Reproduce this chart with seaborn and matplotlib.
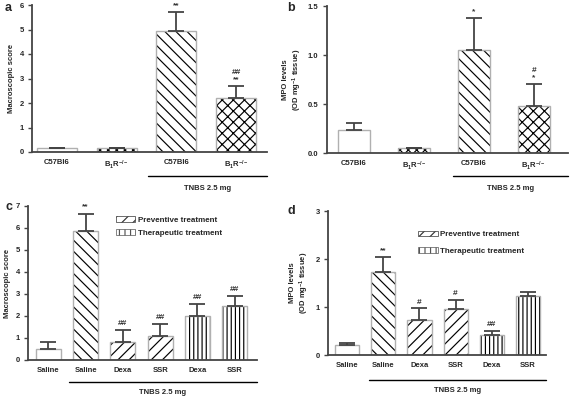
import matplotlib
matplotlib.use("Agg")
import matplotlib.pyplot as plt
import matplotlib.transforms as mtransforms
from matplotlib.patches import Patch
import seaborn as sns
import pandas as pd
import numpy as np

sns.set_theme(style="ticks")
plt.rcParams['font.family'] = ['Liberation Sans', 'DejaVu Sans']
plt.rcParams['hatch.linewidth'] = 0.85
plt.rcParams['mathtext.fontset'] = 'custom'
plt.rcParams['mathtext.rm'] = 'Liberation Sans:bold'
plt.rcParams['mathtext.it'] = 'Liberation Sans:bold'
plt.rcParams['mathtext.bf'] = 'Liberation Sans:bold'

# ---------------- data ----------------
ab_labels = ["C57Bl6", "B$_1$R$^{-/-}$", "C57Bl6", "B$_1$R$^{-/-}$"]
a_vals = [0.15, 0.15, 4.95, 2.2]
a_err = [0.0, 0.0, 0.75, 0.5]
a_sig = ["", "", "**", "##\n**"]

b_vals = [0.23, 0.05, 1.05, 0.48]
b_err = [0.08, 0.0, 0.33, 0.22]
b_sig = ["", "", "*", "#\n*"]

cd_labels = ["Saline", "Saline", "Dexa", "SSR", "Dexa", "SSR"]
c_vals = [0.5, 5.85, 0.8, 1.08, 2.0, 2.45]
c_err = [0.3, 0.8, 0.58, 0.54, 0.55, 0.47]
c_sig = ["", "**", "##", "##", "##", "##"]

d_vals = [0.21, 1.73, 0.72, 0.95, 0.41, 1.23]
d_err = [0.05, 0.31, 0.25, 0.19, 0.10, 0.09]
d_sig = ["", "**", "#", "#", "##", ""]

ab_hatch = ["", "xxxx", "\\\\\\", "xxx"]
cd_hatch = ["", "\\\\\\", "///", "///", "||||", "||||"]

W, H = 570, 400
fig = plt.figure(figsize=(W / 100, H / 100), dpi=100)


def add_ax(l, r, t, b):
    return fig.add_axes([l / W, 1 - b / H, (r - l) / W, (b - t) / H])


EDGE = "#b0b0b0"
AXC = "#444444"
FS = 5.5


def panel(ax, labels, vals, errs, sigs, hatches, width, xlim, ylim, yticks,
          ytickfmt, ylabel, letter, line_from, tnbs_y, text_y, letter_xy):
    n = len(vals)
    ids = [f"k{i}" for i in range(n)]
    df = pd.DataFrame({"id": ids, "v": vals})
    sns.barplot(data=df, x="id", y="v", order=ids, color="white",
                width=width, ax=ax, errorbar=None, linewidth=0)
    for p, h in zip(ax.patches, hatches):
        p.set_facecolor("white")
        p.set_hatch(h)
        p.set_edgecolor("black")
        p.set_linewidth(0)
    sns.barplot(data=df, x="id", y="v", order=ids, color="white",
                width=width, ax=ax, errorbar=None)
    for p in ax.patches[n:]:
        p.set_facecolor("none")
        p.set_edgecolor(EDGE)
        p.set_linewidth(1.0)
    xs = np.arange(n)
    ax.errorbar(xs, vals, yerr=[np.zeros(n), errs], fmt="none",
                ecolor=AXC, elinewidth=1.3, capsize=5.5, capthick=1.3,
                zorder=5)
    rng = ylim[1] - ylim[0]
    for x, v, e, s in zip(xs, vals, errs, sigs):
        if s:
            ax.text(x, v + e + rng * 0.02, s, ha="center", va="bottom",
                    fontsize=6, fontweight="bold", color="#333333",
                    linespacing=1.0)
    ax.set_xlim(*xlim)
    ax.set_ylim(*ylim)
    ax.set_yticks(yticks)
    ax.set_yticklabels([ytickfmt.format(t) for t in yticks])
    ax.set_xticks(xs)
    ax.set_xticklabels(labels)
    ax.set_xlabel("")
    ax.set_ylabel(ylabel, fontsize=FS, fontweight="bold", labelpad=3)
    sns.despine(ax=ax)
    for sp in ("left", "bottom"):
        ax.spines[sp].set_color(AXC)
        ax.spines[sp].set_linewidth(1.3)
    ax.tick_params(axis="y", labelsize=FS, width=1.0, length=3,
                   color=AXC, pad=3)
    ax.tick_params(axis="x", labelsize=FS, length=0, pad=5)
    for t in ax.get_xticklabels() + ax.get_yticklabels():
        t.set_fontweight("bold")
    trans = mtransforms.blended_transform_factory(ax.transData, fig.transFigure)
    x0 = line_from
    x1 = xlim[1]
    ax.plot([x0, x1], [1 - tnbs_y / H] * 2, color="black", lw=1.0,
            transform=trans, clip_on=False)
    ax.text((x0 + x1) / 2, 1 - text_y / H, "TNBS 2.5 mg", ha="center",
            va="center", fontsize=FS, fontweight="bold", transform=trans)
    fig.text(letter_xy[0] / W, 1 - letter_xy[1] / H, letter, fontsize=9,
             fontweight="bold", ha="left", va="center")


mpo_label = "MPO levels\n(OD mg$^{-1}$ tissue)"

axa = add_ax(32, 267, 5, 152)
panel(axa, ab_labels, a_vals, a_err, a_sig, ab_hatch, 0.67, (-0.42, 3.52),
      (0, 6), [0, 1, 2, 3, 4, 5, 6], "{:g}", "Macroscopic score", "a",
      1.53, 176, 188, (5, 8))

axb = add_ax(327, 568, 6, 153)
panel(axb, ab_labels, b_vals, b_err, b_sig, ab_hatch, 0.53, (-0.45, 3.57),
      (0, 1.5), [0, 0.5, 1.0, 1.5], "{:.1f}", mpo_label, "b",
      1.65, 176, 188, (287, 8))

axc = add_ax(28, 257, 206, 360)
panel(axc, cd_labels, c_vals, c_err, c_sig, cd_hatch, 0.67, (-0.55, 5.6),
      (0, 7), [0, 1, 2, 3, 4, 5, 6, 7], "{:g}", "Macroscopic score", "c",
      0.55, 382, 393, (5, 207))

axd = add_ax(328, 546, 211, 355)
panel(axd, cd_labels, d_vals, d_err, d_sig, cd_hatch, 0.67, (-0.53, 5.5),
      (0, 3), [0, 1, 2, 3], "{:g}", mpo_label, "d",
      0.6, 380, 391, (288, 211))

leg_handles = [Patch(facecolor="white", edgecolor="#333333", linewidth=0.5,
                     hatch="///", label="Preventive treatment"),
               Patch(facecolor="white", edgecolor="#555555", linewidth=0.5,
                     hatch="|||", label="Therapeutic treatment")]
for ax, loc, sp in ((axc, (0.37, 0.955), 0.7), (axd, (0.40, 0.885), 1.1)):
    ax.legend(handles=leg_handles, loc="upper left", bbox_to_anchor=loc,
              frameon=False, prop={"size": 5.8, "weight": "bold"},
              handlelength=2.4, handleheight=0.7, handletextpad=0.3,
              labelspacing=sp, borderaxespad=0)

fig.savefig("out.png", dpi=100)
